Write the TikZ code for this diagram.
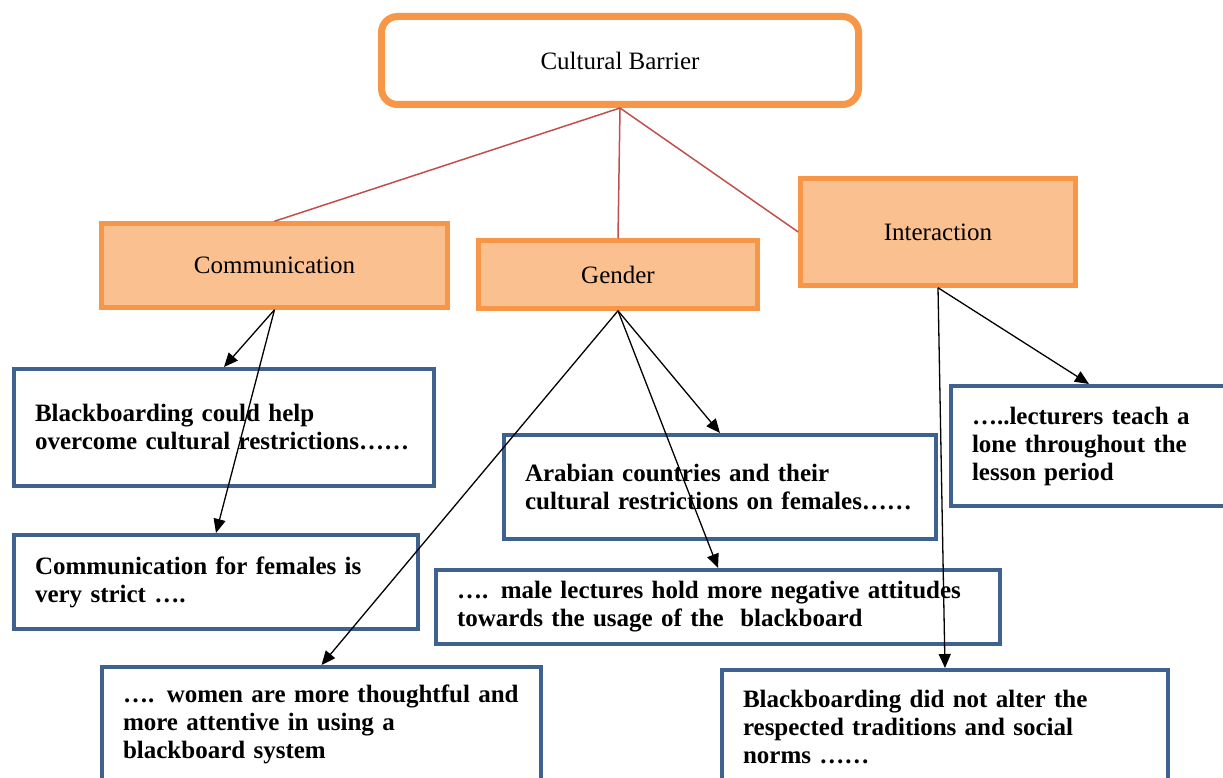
\documentclass[tikz,border=0pt]{standalone}
\usepackage{fontspec}
\setmainfont{Liberation Serif}
\usetikzlibrary{arrows.meta}
\definecolor{barrierorange}{HTML}{F79646}
\definecolor{barrierfill}{HTML}{FAC090}
\definecolor{cardblue}{HTML}{3F6190}
\definecolor{linkred}{HTML}{C0504D}
\tikzset{
  topbox/.style={draw=barrierorange, line width=7pt, fill=white, rounded corners=16pt,
    minimum width=477pt, minimum height=88pt, font=\fontsize{25}{28}\selectfont},
  themebox/.style={draw=barrierorange, line width=4.5pt, fill=barrierfill,
    font=\fontsize{25}{28}\selectfont},
  card/.style={draw=cardblue, line width=4pt, fill=white, align=left, inner xsep=21pt,
    font=\bfseries\fontsize{25}{28}\selectfont},
  link/.style={linkred, line width=1.5pt},
  pointer/.style={black, line width=1.3pt, -{Triangle[length=14pt,width=12pt]}}
}

\begin{document}
\begin{tikzpicture}[x=1pt, y=-1pt]
  \clip (0,0) rectangle (1223,778);
  \fill[white] (0,0) rectangle (1223,778);

  % top of the tree
  \node[topbox] (barrier) at (620,60.5) {Cultural Barrier};

  % the three themes
  \node[themebox, minimum width=346pt, minimum height=84pt] (comm) at (274.5,265.5) {Communication};
  \node[themebox, minimum width=279pt, minimum height=68pt] (gender) at (618,274.5) {Gender};
  \node[themebox, minimum width=275pt, minimum height=107pt] (inter) at (938,232) {Interaction};

  % Communication cards
  \node[card, text width=378pt, minimum height=117pt] (comm1) at (224,427.5)
    {Blackboarding could help\\overcome cultural restrictions……};
  \node[card, text width=362pt, minimum height=94pt] (comm2) at (216,582)
    {Communication for females is\\very strict ….};

  % Gender cards
  \node[card, text width=397pt, minimum height=114pt] (gen1) at (321.5,724)
    {…. women are more thoughtful and\\more attentive in using a\\blackboard system};
  \node[card, text width=390pt, minimum height=104pt] (gen2) at (720,487)
    {Arabian countries and their\\cultural restrictions on females……};
  \node[card, text width=522pt, minimum height=74pt] (gen3) at (718,607)
    {…. male lectures hold more negative attitudes\\towards the usage of the~ blackboard};

  % Interaction cards
  \node[card, text width=234pt, minimum height=120pt] (inter1) at (1089,446)
    {…..lecturers teach a\\lone throughout the\\lesson period};
  \node[card, text width=404pt, minimum height=114pt] (inter2) at (945,727)
    {Blackboarding did not alter the\\respected traditions and social\\norms ……};

  % links from the barrier
  \draw[link] (barrier.south) -- (comm.north);
  \draw[link] (barrier.south) -- (gender.north);
  \draw[link] (barrier.south) -- (inter.west);

  % arrows to the cards
  \draw[pointer] (comm.south) -- (comm1.north);
  \draw[pointer] (comm.south) -- (comm2.north);
  \draw[pointer] (gender.south) -- (gen1.north);
  \draw[pointer] (gender.south) -- (gen2.north);
  \draw[pointer] (gender.south) -- (gen3.north);
  \draw[pointer] (inter.south) -- (inter1.north);
  \draw[pointer] (inter.south) -- (inter2.north);
\end{tikzpicture}
\end{document}
